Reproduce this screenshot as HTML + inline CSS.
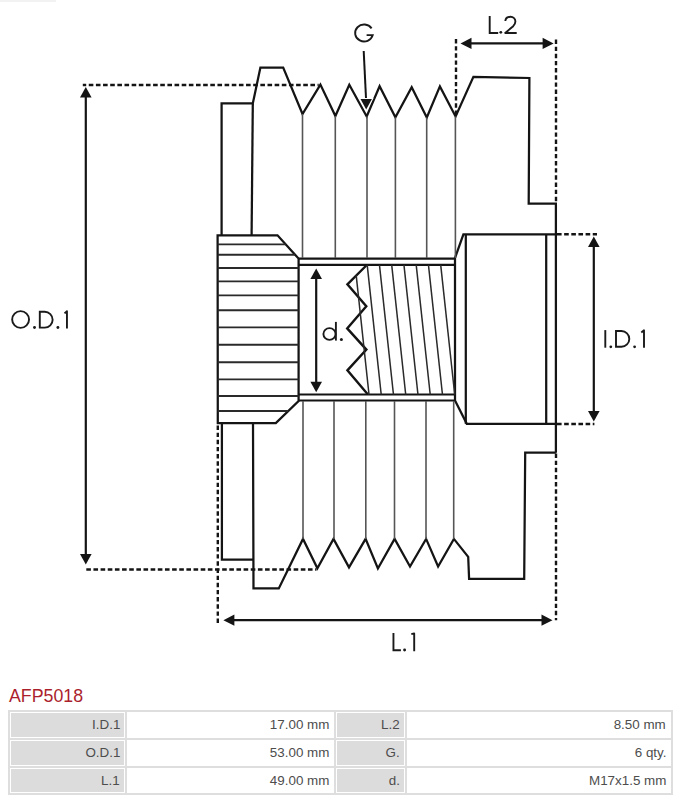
<!DOCTYPE html>
<html><head><meta charset="utf-8"><style>
html,body{margin:0;padding:0;background:#fff;}
body{width:684px;height:800px;position:relative;overflow:hidden;font-family:"Liberation Sans",sans-serif;}
svg{position:absolute;left:0;top:0;}
svg text{font-family:"Liberation Sans",sans-serif;}
.c{position:absolute;box-sizing:border-box;background:#fff;padding:1px;}
.in{width:100%;height:100%;box-sizing:border-box;text-align:right;padding-right:4px;font-size:12px;line-height:24px;color:#4d4d4d;}
.in span{display:inline-block;transform:scaleX(1.115);transform-origin:100% 50%;}
.title{position:absolute;left:9px;top:686px;font-size:17.8px;color:#ab1f2d;line-height:20px;}
</style></head><body>
<div style="position:absolute;left:0;top:0;width:56px;height:2px;background:#f2f2f2"></div>
<svg width="684" height="680" viewBox="0 0 684 680">
<polyline points="221.6,235.5 221.6,103.4 252.8,103.4 260.4,67.6 283.2,67.6 302.5,114 320.4,84.6 335.4,116 349.3,84.8 366.7,116.5 379.6,86.2 395.4,117.3 411.7,87.2 426.8,117.5 439.9,86.4 455.6,116.5 473.4,76.9 529.4,78 528.7,203.7 555.9,203.7 555.9,452.7" fill="none" stroke="#141414" stroke-width="2.25" stroke-linejoin="miter" stroke-miterlimit="10" />
<line x1="252.8" y1="103.4" x2="251.6" y2="235.5" stroke="#141414" stroke-width="2.25" />
<polyline points="217.6,235.3 277.5,235.3 298.6,258.6 298.6,401 275.8,423 217.8,423 217.6,235.3" fill="none" stroke="#141414" stroke-width="2.25" stroke-linejoin="miter" stroke-miterlimit="10" stroke-linecap="square"/>
<line x1="217.6" y1="244.4" x2="285.7407725321888" y2="244.4" stroke="#2a2a2a" stroke-width="1.9" />
<line x1="217.6" y1="254.7" x2="295.0682403433476" y2="254.7" stroke="#2a2a2a" stroke-width="1.9" />
<line x1="217.6" y1="268" x2="298.6" y2="268" stroke="#2a2a2a" stroke-width="1.9" />
<line x1="217.6" y1="281.4" x2="298.6" y2="281.4" stroke="#2a2a2a" stroke-width="1.9" />
<line x1="217.6" y1="295.4" x2="298.6" y2="295.4" stroke="#2a2a2a" stroke-width="1.9" />
<line x1="217.6" y1="310.3" x2="298.6" y2="310.3" stroke="#2a2a2a" stroke-width="1.9" />
<line x1="217.6" y1="327.4" x2="298.6" y2="327.4" stroke="#2a2a2a" stroke-width="1.9" />
<line x1="217.6" y1="344.8" x2="298.6" y2="344.8" stroke="#2a2a2a" stroke-width="1.9" />
<line x1="217.6" y1="362.3" x2="298.6" y2="362.3" stroke="#2a2a2a" stroke-width="1.9" />
<line x1="217.6" y1="379.4" x2="298.6" y2="379.4" stroke="#2a2a2a" stroke-width="1.9" />
<line x1="217.6" y1="396" x2="298.6" y2="396" stroke="#2a2a2a" stroke-width="1.9" />
<line x1="217.6" y1="411" x2="288.23636363636365" y2="411" stroke="#2a2a2a" stroke-width="1.9" />
<line x1="298.6" y1="258.6" x2="455" y2="258.6" stroke="#141414" stroke-width="2.2" />
<line x1="298.6" y1="264.8" x2="455" y2="264.8" stroke="#141414" stroke-width="2.2" />
<line x1="298.6" y1="394.5" x2="455" y2="394.5" stroke="#141414" stroke-width="2.2" />
<line x1="298.6" y1="400.5" x2="455" y2="400.5" stroke="#141414" stroke-width="2.2" />
<polyline points="555.9,234.3 463.4,234.3 455,258 455,400.5 466.8,423.8 555.9,423.8" fill="none" stroke="#141414" stroke-width="2.25" stroke-linejoin="miter" stroke-miterlimit="10" />
<line x1="465.8" y1="234.3" x2="465.8" y2="423.8" stroke="#141414" stroke-width="2.25" />
<line x1="546.2" y1="234.3" x2="546.2" y2="423.8" stroke="#141414" stroke-width="2.25" />
<polyline points="221.9,423 221.9,559.5 253.5,559.5" fill="none" stroke="#141414" stroke-width="2.25" stroke-linejoin="miter" stroke-miterlimit="10" />
<polyline points="253,423 253.5,588.4 278.8,588.4 303,538.9 317.4,568.2 333.5,538.9 349,567.4 365.6,538.9 377.9,568.5 394.6,538.9 410,566.5 426.1,538.9 438.1,566.5 453.9,538.9 468.2,556.8 469.1,578.8 524.2,578.8 525.2,452.7 555.9,452.7" fill="none" stroke="#141414" stroke-width="2.25" stroke-linejoin="miter" stroke-miterlimit="10" />
<line x1="302.5" y1="114" x2="302.5" y2="258" stroke="#555" stroke-width="1.6" />
<line x1="335.3" y1="116" x2="335.3" y2="258" stroke="#555" stroke-width="1.6" />
<line x1="367" y1="116.5" x2="367" y2="258" stroke="#555" stroke-width="1.6" />
<line x1="395.4" y1="117.3" x2="395.4" y2="258" stroke="#555" stroke-width="1.6" />
<line x1="426.7" y1="117.5" x2="426.7" y2="258" stroke="#555" stroke-width="1.6" />
<line x1="455.4" y1="116.5" x2="455.4" y2="258" stroke="#555" stroke-width="1.6" />
<line x1="303" y1="401" x2="303" y2="538.9" stroke="#555" stroke-width="1.6" />
<line x1="334" y1="401" x2="334" y2="538.9" stroke="#555" stroke-width="1.6" />
<line x1="365.8" y1="401" x2="365.8" y2="538.9" stroke="#555" stroke-width="1.6" />
<line x1="394.5" y1="401" x2="394.5" y2="538.9" stroke="#555" stroke-width="1.6" />
<line x1="426" y1="401" x2="426" y2="538.9" stroke="#555" stroke-width="1.6" />
<line x1="453.7" y1="401" x2="453.7" y2="538.9" stroke="#555" stroke-width="1.6" />
<polyline points="366.8,265 347.4,284.4 366.3,306.3 347.2,328.4 366.4,349.6 347.4,370.4 367.7,394.2" fill="none" stroke="#141414" stroke-width="2.4" stroke-linejoin="miter" stroke-miterlimit="10" />
<line x1="367.2" y1="264.8" x2="381.2" y2="394.5" stroke="#2a2a2a" stroke-width="1.5" />
<line x1="379.45" y1="264.8" x2="393.45" y2="394.5" stroke="#2a2a2a" stroke-width="1.5" />
<line x1="391.7" y1="264.8" x2="405.7" y2="394.5" stroke="#2a2a2a" stroke-width="1.5" />
<line x1="403.95" y1="264.8" x2="417.95" y2="394.5" stroke="#2a2a2a" stroke-width="1.5" />
<line x1="416.2" y1="264.8" x2="430.2" y2="394.5" stroke="#2a2a2a" stroke-width="1.5" />
<line x1="428.45" y1="264.8" x2="442.45" y2="394.5" stroke="#2a2a2a" stroke-width="1.5" />
<line x1="440.7" y1="264.8" x2="454.7" y2="394.5" stroke="#2a2a2a" stroke-width="1.5" />
<line x1="356.2" y1="275.4" x2="369" y2="394.5" stroke="#2a2a2a" stroke-width="1.5" />
<line x1="82.8" y1="85" x2="318.7" y2="85" stroke="#141414" stroke-width="2.4" stroke-dasharray="4.6 2.55" stroke-dashoffset="1.2"/>
<line x1="86.3" y1="569.5" x2="316.5" y2="569.5" stroke="#141414" stroke-width="2.4" stroke-dasharray="4.6 2.55"/>
<line x1="456" y1="39" x2="456" y2="116" stroke="#141414" stroke-width="2.4" stroke-dasharray="4.4 2.75"/>
<line x1="556" y1="39.5" x2="556" y2="203.7" stroke="#141414" stroke-width="2.4" stroke-dasharray="4.4 2.75"/>
<line x1="557" y1="234.3" x2="597" y2="234.3" stroke="#141414" stroke-width="2.4" stroke-dasharray="4.6 2.55"/>
<line x1="557" y1="424" x2="594.4" y2="424" stroke="#141414" stroke-width="2.4" stroke-dasharray="4.6 2.55"/>
<line x1="217.8" y1="425.5" x2="217.8" y2="623.3" stroke="#141414" stroke-width="2.4" stroke-dasharray="4.4 2.75"/>
<line x1="556" y1="453.5" x2="556" y2="620.3" stroke="#141414" stroke-width="2.4" stroke-dasharray="4.4 2.75"/>
<line x1="85.8" y1="96.5" x2="85.8" y2="555.0" stroke="#141414" stroke-width="2.2" />
<polygon points="85.8,87 80.0,97.5 91.6,97.5" fill="#141414" />
<polygon points="85.8,564.5 80.0,554.0 91.6,554.0" fill="#141414" />
<line x1="316.2" y1="278.1" x2="316.2" y2="382.7" stroke="#141414" stroke-width="2.2" />
<polygon points="316.2,268.6 310.4,279.1 322.0,279.1" fill="#141414" />
<polygon points="316.2,392.2 310.4,381.7 322.0,381.7" fill="#141414" />
<line x1="593.8" y1="246.1" x2="593.8" y2="412.1" stroke="#141414" stroke-width="2.2" />
<polygon points="593.8,236.6 588.0,247.1 599.5999999999999,247.1" fill="#141414" />
<polygon points="593.8,421.6 588.0,411.1 599.5999999999999,411.1" fill="#141414" />
<line x1="470.5" y1="43.4" x2="543.6" y2="43.4" stroke="#141414" stroke-width="2.2" />
<polygon points="460.5,43.4 471.5,37.8 471.5,49.0" fill="#141414" />
<polygon points="553.6,43.4 542.6,37.8 542.6,49.0" fill="#141414" />
<line x1="233.4" y1="620.2" x2="542.5" y2="620.2" stroke="#141414" stroke-width="2.2" />
<polygon points="223.4,620.2 234.4,614.6 234.4,625.8000000000001" fill="#141414" />
<polygon points="552.5,620.2 541.5,614.6 541.5,625.8000000000001" fill="#141414" />
<line x1="363.7" y1="51" x2="366.1" y2="100" stroke="#141414" stroke-width="2" />
<polygon points="366.2,109.6 360.5,99 371.9,99" fill="#141414" stroke="#fff" stroke-width="2" paint-order="stroke"/>

<g fill="none" stroke="#1a1a1a" stroke-width="1.9">
<ellipse cx="20.6" cy="319.5" rx="8.45" ry="8.4"/>
<path d="M39.8,311.75 V327.65 H44.7 A7.95 7.95 0 0 0 44.7,311.75 Z"/>
<path d="M64.5,313.4 L66.95,311.2 V328.6" stroke-linejoin="round"/>
<path d="M605.3,330.1 V347.7"/>
<path d="M616,331.05 V346.75 H621.45 A7.85 7.85 0 0 0 621.45,331.05 Z"/>
<path d="M641.3,332.5 L644,330.3 V347.7" stroke-linejoin="round"/>
<path d="M489.7,15.9 V33 H498.2"/>
<path d="M505.3,21 C505.6,18 507.8,16.8 510.4,16.8 C513.3,16.8 515.4,18.9 515.4,21.6 C515.4,23.4 514.6,24.7 513.2,26.2 L505.2,33 H516.7" stroke-linejoin="round"/>
<path d="M371.6,28.4 A8.95 8.5 0 1 0 372.75,35.1 H366.6"/>
<path d="M393.45,633.1 V650.2 H400.9"/>
<path d="M411.3,634.2 L414.2,633.4 V651.2" stroke-linejoin="round"/>
<ellipse cx="329.5" cy="334" rx="6.1" ry="5.85"/>
<path d="M335.9,321.9 V340.6"/>
</g>
<g fill="#1a1a1a">
<circle cx="34.5" cy="327.5" r="1.45"/>
<circle cx="57.9" cy="327.5" r="1.45"/>
<circle cx="610.8" cy="346.8" r="1.4"/>
<circle cx="634.6" cy="346.8" r="1.4"/>
<circle cx="500.8" cy="32.3" r="1.4"/>
<circle cx="404.6" cy="650" r="1.45"/>
<circle cx="341.4" cy="339.6" r="1.5"/>
</g>

</svg>
<div class="title">AFP5018</div>
<div style="position:absolute;left:8px;top:710px;width:665px;height:85px;background:#dedede"></div><div class="c" style="left:10px;top:712px;width:115px;height:26px;"><div class="in" style="background:#dcdcdc"><span>I.D.1</span></div></div><div class="c" style="left:127px;top:712px;width:207px;height:26px;"><div class="in" style="background:#ffffff"><span>17.00 mm</span></div></div><div class="c" style="left:336px;top:712px;width:69px;height:26px;"><div class="in" style="background:#dcdcdc"><span>L.2</span></div></div><div class="c" style="left:407px;top:712px;width:264px;height:26px;"><div class="in" style="background:#ffffff"><span>8.50 mm</span></div></div><div class="c" style="left:10px;top:740px;width:115px;height:25.5px;"><div class="in" style="background:#dcdcdc"><span>O.D.1</span></div></div><div class="c" style="left:127px;top:740px;width:207px;height:25.5px;"><div class="in" style="background:#ffffff"><span>53.00 mm</span></div></div><div class="c" style="left:336px;top:740px;width:69px;height:25.5px;"><div class="in" style="background:#dcdcdc"><span>G.</span></div></div><div class="c" style="left:407px;top:740px;width:264px;height:25.5px;"><div class="in" style="background:#ffffff"><span>6 qty.</span></div></div><div class="c" style="left:10px;top:767.5px;width:115px;height:25.5px;"><div class="in" style="background:#dcdcdc"><span>L.1</span></div></div><div class="c" style="left:127px;top:767.5px;width:207px;height:25.5px;"><div class="in" style="background:#ffffff"><span>49.00 mm</span></div></div><div class="c" style="left:336px;top:767.5px;width:69px;height:25.5px;"><div class="in" style="background:#dcdcdc"><span>d.</span></div></div><div class="c" style="left:407px;top:767.5px;width:264px;height:25.5px;"><div class="in" style="background:#ffffff"><span>M17x1.5 mm</span></div></div>
</body></html>
